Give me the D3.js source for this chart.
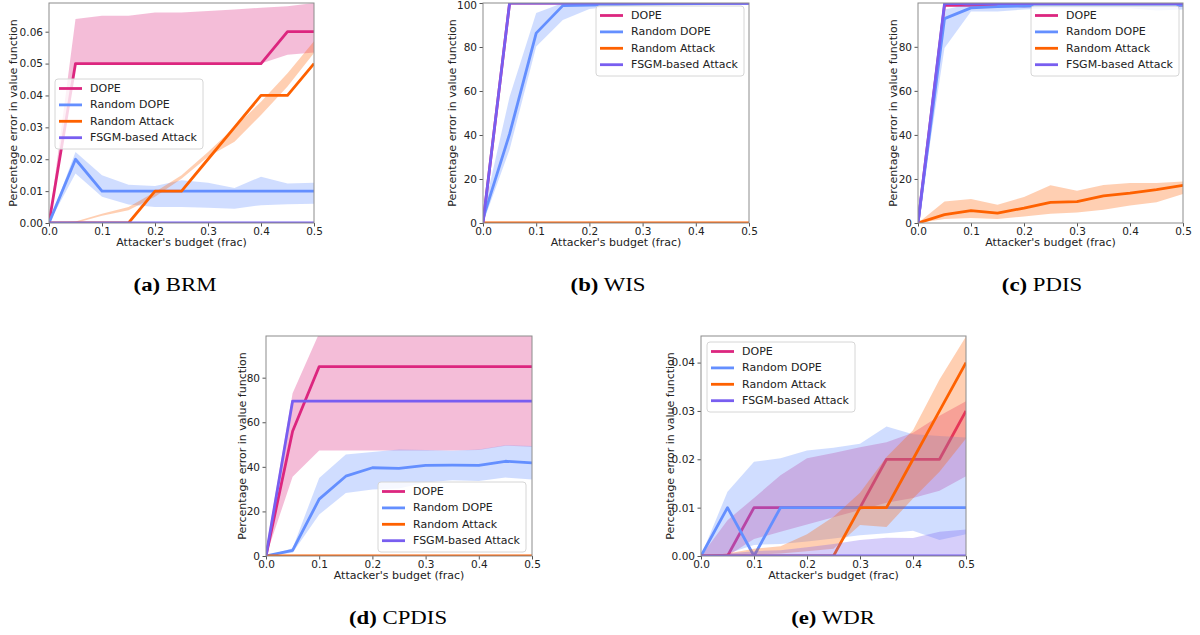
<!DOCTYPE html>
<html>
<head>
<meta charset="utf-8">
<script src="https://cdn.jsdelivr.net/npm/d3@7"></script>
<style>
  body { margin: 0; background: #fff; }
  svg { display: block; }
</style>
</head>
<body>
<script>
// budget fractions shared by all panels
const budgets = [0, 0.05, 0.1, 0.15, 0.2, 0.25, 0.3, 0.35, 0.4, 0.45, 0.5];
const seriesNames = ["DOPE", "Random DOPE", "Random Attack", "FSGM-based Attack"];
const seriesColors = ["#DC267F", "#648FFF", "#FE6100", "#785EF0"];
const zeros = budgets.map(() => 0);

// (a) BRM
const brmDope = [0, 0.05, 0.05, 0.05, 0.05, 0.05, 0.05, 0.05, 0.05, 0.06, 0.06];
const brmDopeLo = [0, 0.05, 0.05, 0.05, 0.05, 0.05, 0.05, 0.05, 0.05, 0.0528, 0.0535];
const brmDopeHi = [0, 0.064, 0.065, 0.065, 0.066, 0.066, 0.0665, 0.067, 0.0675, 0.068, 0.069];
const brmRand = [0, 0.02, 0.01, 0.01, 0.01, 0.01, 0.01, 0.01, 0.01, 0.01, 0.01];
const brmRandLo = [0, 0.0155, 0.0082, 0.0058, 0.005, 0.005, 0.0048, 0.0045, 0.0056, 0.0059, 0.006];
const brmRandHi = [0, 0.0223, 0.015, 0.012, 0.0116, 0.0134, 0.0126, 0.011, 0.0145, 0.0124, 0.0126];
const brmAtk = [0, 0, 0, 0, 0.01, 0.01, 0.02, 0.03, 0.04, 0.04, 0.05];
const brmAtkLo = [0, 0, 0.0023, 0.004, 0.0082, 0.0139, 0.0208, 0.0255, 0.0339, 0.0428, 0.0533];
const brmAtkHi = [0, 0.0005, 0.0029, 0.005, 0.0097, 0.015, 0.0223, 0.03, 0.038, 0.047, 0.057];
const brmFsgm = [0, 0, 0, 0, 0, 0, 0, 0, 0, 0, 0];

// (b) WIS
const wisDope = [0, 100, 100, 100, 100, 100, 100, 100, 100, 100, 100];
const wisRand = [2, 40.5, 86.3, 98.8, 99, 99.3, 99.5, 99.6, 99.7, 99.8, 99.8];
const wisRandLo = [0, 33.4, 80.2, 92.3, 97.3, 98.5, 98.8, 99, 99, 99.2, 99.3];
const wisRandHi = [4, 57.4, 95.4, 100, 100, 100, 100, 100, 100, 100, 100];
const wisAtk = [0, 0, 0, 0, 0, 0, 0, 0, 0, 0, 0];
const wisFsgm = [0, 100, 100, 100, 100, 100, 100, 100, 100, 100, 100];

// (c) PDIS
const pdisDope = [0, 98.8, 98.8, 99, 98.6, 99, 99, 99, 99, 99, 99];
const pdisRand = [0, 92.8, 97.7, 98.3, 98.5, 98.7, 98.8, 98.8, 98.9, 99, 99];
const pdisRandLo = [0, 79.5, 96, 96, 97, 97.5, 97.5, 97.5, 97.5, 96.5, 97];
const pdisRandHi = [0, 97, 99.5, 99.6, 99.7, 99.7, 99.8, 99.8, 99.8, 99.8, 99.8];
const pdisAtk = [0, 3.8, 5.6, 4.5, 6.8, 9.4, 9.7, 12.3, 13.6, 15.2, 17.1];
const pdisAtkLo = [0, 1.8, 2.3, 1.8, 3, 4.2, 4.8, 6, 8, 9.4, 13.2];
const pdisAtkHi = [0, 9.8, 10.9, 8.3, 11.8, 17.1, 14.7, 17.3, 18.2, 18.2, 18.9];
const pdisFsgm = [0, 99.6, 99.6, 99.6, 99.6, 99.6, 99.6, 99.6, 99.6, 99.6, 99.6];

// (d) CPDIS
const cpDope = [0, 56, 85, 85, 85, 85, 85, 85, 85, 85, 85];
const cpDopeLo = [0, 35.5, 47.3, 47.3, 47.3, 47.3, 47.3, 47.3, 47.5, 49.5, 49];
const cpDopeHi = [3, 73, 100, 122, 122, 122, 122, 122, 122, 122, 122];
const cpRand = [0, 2.5, 25.5, 35.8, 39.6, 39.3, 40.7, 40.8, 40.7, 42.5, 41.8];
const cpRandLo = [0, 1.5, 18.6, 28.3, 29.8, 30.3, 33, 34, 33.6, 35.2, 34.3];
const cpRandHi = [0, 3.5, 35, 45.5, 46.7, 47.8, 47.5, 47.2, 47.8, 49.7, 49.3];
const cpAtk = [0, 0, 0, 0, 0, 0, 0, 0, 0, 0, 0];
const cpFsgm = [0, 69.5, 69.5, 69.5, 69.5, 69.5, 69.5, 69.5, 69.5, 69.5, 69.5];

// (e) WDR
const wdrDope = [0, 0, 0.01, 0.01, 0.01, 0.01, 0.01, 0.02, 0.02, 0.02, 0.03];
const wdrDopeLo = [0, 0, 0.0035, 0.005, 0.0065, 0.008, 0.0095, 0.011, 0.012, 0.0135, 0.0165];
const wdrDopeHi = [0, 0.0074, 0.012, 0.0167, 0.0202, 0.0213, 0.0225, 0.0235, 0.0255, 0.029, 0.032];
const wdrRand = [0, 0.01, 0, 0.01, 0.01, 0.01, 0.01, 0.01, 0.01, 0.01, 0.01];
const wdrRandLo = [0, 0.0005, 0.0023, 0.0025, 0.003, 0.0036, 0.0043, 0.0047, 0.0052, 0.0033, 0.0045];
const wdrRandHi = [0, 0.0133, 0.0195, 0.0202, 0.0218, 0.0224, 0.0232, 0.0268, 0.0252, 0.0248, 0.0245];
const wdrAtk = [0, 0, 0, 0, 0, 0, 0.01, 0.01, 0.02, 0.03, 0.04];
const wdrAtkLo = [0, 0, 0.0003, 0.0005, 0.001, 0.0015, 0.0064, 0.006, 0.0119, 0.0174, 0.0243];
const wdrAtkHi = [0, 0.0005, 0.0015, 0.002, 0.0045, 0.0081, 0.0131, 0.0205, 0.026, 0.0365, 0.0454];
const wdrFsgm = [0, 0, 0, 0, 0, 0, 0, 0, 0, 0, 0];
const wdrFsgmHi = [0, 0.0005, 0.001, 0.0012, 0.0018, 0.0025, 0.0033, 0.0038, 0.0037, 0.005, 0.0055];

// tick labels
const xTicks = [0, 0.1, 0.2, 0.3, 0.4, 0.5];
const yTicksBrm = [0, 0.01, 0.02, 0.03, 0.04, 0.05, 0.06];
const yTicksWis = [0, 20, 40, 60, 80, 100];
const yTicksPct = [0, 20, 40, 60, 80];
const yTicksWdr = [0, 0.01, 0.02, 0.03, 0.04];

const panels = [
  { x0: 49, x1: 314, y0: 3, y1: 223, ymax: 0.069, yticks: yTicksBrm, fmt: ".2f", ylabX: 13,
    legend: [55, 79], cap: [175, 291, "(a)", "BRM"],
    lines: [brmDope, brmRand, brmAtk, brmFsgm],
    bands: [[brmDopeLo, brmDopeHi], [brmRandLo, brmRandHi], [brmAtkLo, brmAtkHi], null] },
  { x0: 483, x1: 749, y0: 3, y1: 223, ymax: 100, yticks: yTicksWis, fmt: "d", ylabX: 452,
    legend: [596, 6], cap: [608, 291, "(b)", "WIS"],
    lines: [wisDope, wisRand, wisAtk, wisFsgm],
    bands: [null, [wisRandLo, wisRandHi], null, null] },
  { x0: 918, x1: 1183, y0: 3, y1: 223, ymax: 99.9, yticks: yTicksPct, fmt: "d", ylabX: 893,
    legend: [1031, 6], cap: [1042, 291, "(c)", "PDIS"],
    lines: [pdisDope, pdisRand, pdisAtk, pdisFsgm],
    bands: [null, [pdisRandLo, pdisRandHi], [pdisAtkLo, pdisAtkHi], null] },
  { x0: 266, x1: 532, y0: 336, y1: 556, ymax: 98.7, yticks: yTicksPct, fmt: "d", ylabX: 242,
    legend: [378, 482], cap: [398, 624, "(d)", "CPDIS"],
    lines: [cpDope, cpRand, cpAtk, cpFsgm],
    bands: [[cpDopeLo, cpDopeHi], [cpRandLo, cpRandHi], null, null] },
  { x0: 701, x1: 966, y0: 336, y1: 556, ymax: 0.0455, yticks: yTicksWdr, fmt: ".2f", ylabX: 670,
    legend: [707, 342], cap: [833, 624, "(e)", "WDR"],
    lines: [wdrDope, wdrRand, wdrAtk, wdrFsgm],
    bands: [[wdrDopeLo, wdrDopeHi], [wdrRandLo, wdrRandHi], [wdrAtkLo, wdrAtkHi], [zeros, wdrFsgmHi]] }
];

const FONT = "DejaVu Sans, sans-serif";

const svg = d3.select("body").append("svg")
  .attr("width", 1200)
  .attr("height", 635);

panels.forEach((p, pi) => {
  const x = d3.scaleLinear().domain([0, 0.5]).range([p.x0, p.x1]);
  const y = d3.scaleLinear().domain([0, p.ymax]).range([p.y1, p.y0]);
  const g = svg.append("g");

  const clipId = "clip" + pi;
  svg.append("clipPath").attr("id", clipId)
    .append("rect")
    .attr("x", p.x0).attr("y", p.y0)
    .attr("width", p.x1 - p.x0).attr("height", p.y1 - p.y0);

  const plot = g.append("g").attr("clip-path", `url(#${clipId})`);

  const area = d3.area()
    .x((d, i) => x(budgets[i]))
    .y0(d => y(d[0]))
    .y1(d => y(d[1]));
  const line = d3.line()
    .x((d, i) => x(budgets[i]))
    .y(d => y(d));

  // band then mean line, series by series
  p.lines.forEach((vals, si) => {
    const band = p.bands[si];
    if (band) {
      plot.append("path")
        .datum(budgets.map((b, i) => [band[0][i], band[1][i]]))
        .attr("d", area)
        .attr("fill", seriesColors[si])
        .attr("fill-opacity", 0.3);
    }
    plot.append("path")
      .datum(vals)
      .attr("d", line)
      .attr("fill", "none")
      .attr("stroke", seriesColors[si])
      .attr("stroke-width", 2.8)
      .attr("stroke-linejoin", "round");
  });

  // axes
  const xAxis = g.append("g")
    .attr("transform", `translate(0,${p.y1})`)
    .call(d3.axisBottom(x).tickValues(xTicks).tickFormat(d3.format(".1f")).tickSize(3.5).tickPadding(1.5));
  const yAxis = g.append("g")
    .attr("transform", `translate(${p.x0},0)`)
    .call(d3.axisLeft(y).tickValues(p.yticks).tickFormat(d3.format(p.fmt)).tickSize(3.5).tickPadding(2.5));
  [xAxis, yAxis].forEach(a => {
    a.select(".domain").remove();
    a.selectAll(".tick line").attr("stroke", "#555");
    a.selectAll(".tick text")
      .attr("fill", "#222")
      .style("font-family", FONT)
      .style("font-size", "10.5px");
  });
  // keep a label at the very top inside the page
  yAxis.selectAll(".tick text")
    .filter(d => y(d) - 6 < 0)
    .attr("dy", "0.55em");

  g.append("rect")
    .attr("x", p.x0).attr("y", p.y0)
    .attr("width", p.x1 - p.x0).attr("height", p.y1 - p.y0)
    .attr("fill", "none")
    .attr("stroke", "#8c8c8c")
    .attr("stroke-width", 1);

  g.append("text")
    .attr("x", (p.x0 + p.x1) / 2)
    .attr("y", p.y1 + 23)
    .attr("text-anchor", "middle")
    .style("font-family", FONT)
    .style("font-size", "11px")
    .attr("fill", "#222")
    .text("Attacker's budget (frac)");

  g.append("text")
    .attr("transform", `translate(${p.ylabX},${(p.y0 + p.y1) / 2}) rotate(-90)`)
    .attr("text-anchor", "middle")
    .attr("dominant-baseline", "central")
    .style("font-family", FONT)
    .style("font-size", "11px")
    .attr("fill", "#222")
    .text("Percentage error in value function");

  // legend
  const lg = g.append("g").attr("transform", `translate(${p.legend[0]},${p.legend[1]})`);
  lg.append("rect")
    .attr("width", 148).attr("height", 70)
    .attr("rx", 3)
    .attr("fill", "#fff").attr("fill-opacity", 0.8)
    .attr("stroke", "#d6d6d6");
  seriesNames.forEach((name, si) => {
    const yy = 9.5 + si * 16.4;
    lg.append("line")
      .attr("x1", 4).attr("x2", 27)
      .attr("y1", yy).attr("y2", yy)
      .attr("stroke", seriesColors[si])
      .attr("stroke-width", 2.8);
    lg.append("text")
      .attr("x", 35).attr("y", yy)
      .attr("dominant-baseline", "central")
      .style("font-family", FONT)
      .style("font-size", "11px")
      .attr("fill", "#222")
      .text(name);
  });

  // caption
  const cap = svg.append("g")
    .attr("transform", `translate(${p.cap[0]},${p.cap[1]}) scale(1.2,1)`)
    .append("text")
    .attr("text-anchor", "middle")
    .style("font-family", "Liberation Serif, serif")
    .style("font-size", "19px")
    .attr("fill", "#000");
  cap.append("tspan").attr("font-weight", "bold").text(p.cap[2]);
  cap.append("tspan").text(" " + p.cap[3]);
});
</script>
</body>
</html>
